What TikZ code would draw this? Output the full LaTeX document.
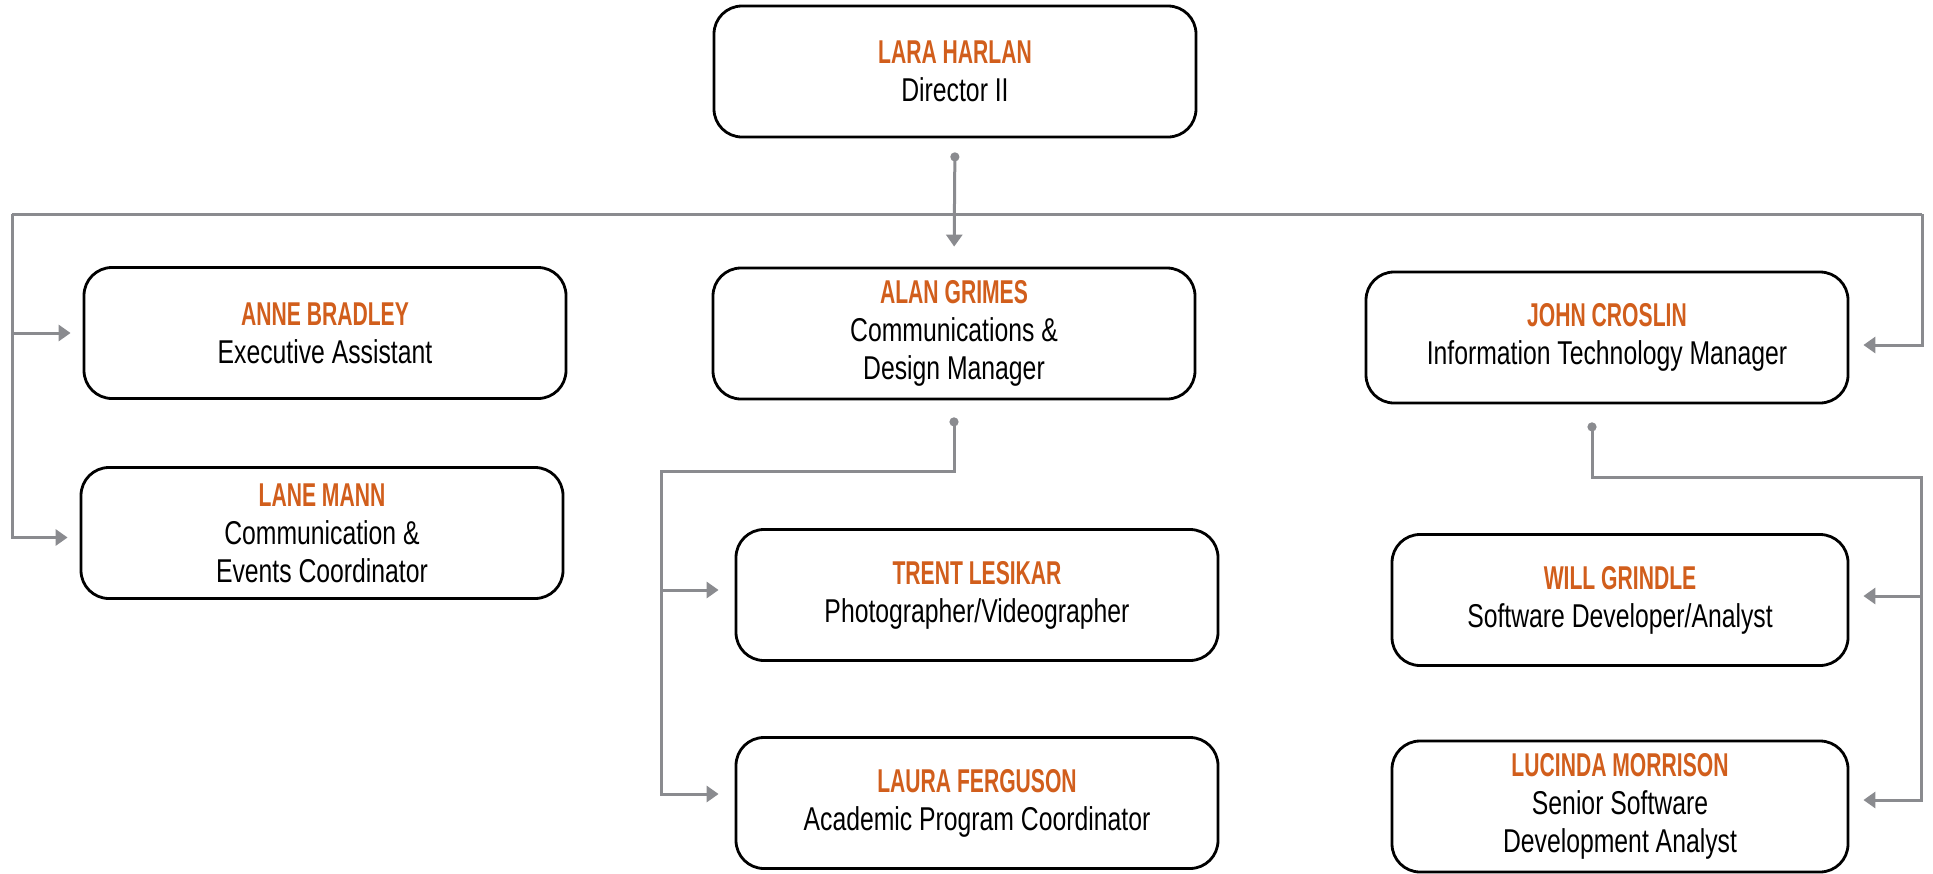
\documentclass[tikz,border=0pt]{standalone}
\usepackage{fontspec}
\setmainfont[FakeStretch=0.75,BoldFeatures={FakeStretch=0.64}]{Liberation Sans}
\usetikzlibrary{arrows.meta,calc}
\definecolor{namecol}{RGB}{209,94,28}
\definecolor{linecol}{RGB}{138,139,143}
\newcommand{\person}[2]{%
  \textbf{\color{namecol}#1}\\#2}

\begin{document}
\begin{tikzpicture}[x=0.5pt,y=-0.5pt,
    box/.style={draw,line width=1.4pt,rounded corners=14pt,align=center,
      minimum width=241pt,minimum height=65.5pt,inner sep=0pt,
      font=\fontsize{16.5}{19}\selectfont},
    narrowbox/.style={box,minimum width=228pt},
    link/.style={draw=linecol,line width=1.5pt},
    arrow/.style={link,-{Triangle[length=6pt,width=8pt]},shorten >=7pt},
    dotarrow/.style={arrow,{Circle[length=4.5pt]}-{Triangle[length=6pt,width=8pt]}}]
	\useasboundingbox (0,0) rectangle (1933,873);
	%BOXES
	\node[box] (lara) at (955,71.5) {\person{LARA HARLAN}{Director II}};
	\node[box] (alan) at (954,333.5) {\person{ALAN GRIMES}{Communications \&\\Design Manager}};
	\node[box] (anne) at (325,333) {\person{ANNE BRADLEY}{Executive Assistant}};
	\node[box] (lane) at (322,533) {\person{LANE MANN}{Communication \&\\Events Coordinator}};
	\node[box] (john) at (1607,337.5) {\person{JOHN CROSLIN}{Information Technology Manager}};
	\node[box] (trent) at (977,595) {\person{TRENT LESIKAR}{Photographer/Videographer}};
	\node[box] (laura) at (977,803) {\person{LAURA FERGUSON}{Academic Program Coordinator}};
	\node[narrowbox] (will) at (1620,600) {\person{WILL GRINDLE}{Software Developer/Analyst}};
	\node[narrowbox] (lucinda) at (1620,806.5) {\person{LUCINDA MORRISON}{Senior Software\\Development Analyst}};
	%DIRECTOR
	\coordinate (busL) at (12,214);
	\coordinate (busR) at (1922,214);
	\draw[link] (busL) -- (busR);
	\draw[dotarrow,shorten <=7pt,shorten >=10pt] (lara.south) -- (alan.north);
	\draw[arrow,shorten >=6pt] (busL) |- (anne.west);
	\draw[arrow,shorten >=6pt] (busL) |- ([yshift=-2.25pt]lane.west);
	\draw[arrow] (busR) |- ([yshift=-3.75pt]john.east);
	%COMMUNICATIONS
	\coordinate (alanbus) at (661,471);
	\draw[dotarrow,shorten <=8.5pt,shorten >=8pt] (alan.south) -- (alan.south |- alanbus) -- (alanbus) |- ([yshift=2.5pt]trent.west);
	\draw[arrow,shorten >=8pt] (alanbus) |- ([yshift=4.5pt]laura.west);
	%IT
	\coordinate (johndot) at ($(john.south)+(-15,0)$);
	\coordinate (johnbus) at (1921,477);
	\draw[dotarrow,shorten <=9pt] (johndot) -- (johndot |- johnbus) -- (johnbus) |- ([yshift=2pt]will.east);
	\draw[arrow] (johnbus) |- ([yshift=3.25pt]lucinda.east);
\end{tikzpicture}
\end{document}
